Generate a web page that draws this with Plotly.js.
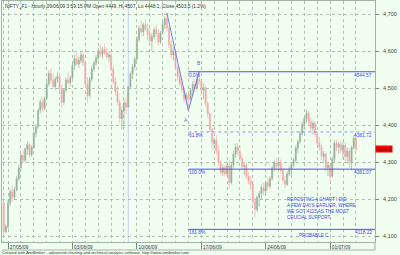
<!DOCTYPE html>
<html><head><meta charset="utf-8">
<script src="https://cdn.plot.ly/plotly-3.0.1.min.js"></script>
<style>html,body{margin:0;padding:0;background:#f0fff0;}#chart{width:400px;height:255px;}</style>
</head><body><div id="chart"></div>
<script>
const dayLabels = ["26/05/09","27/05/09","28/05/09","29/05/09","01/06/09","02/06/09","03/06/09","04/06/09","05/06/09","08/06/09","09/06/09","10/06/09","11/06/09","12/06/09","15/06/09","16/06/09","17/06/09","18/06/09","19/06/09","22/06/09","23/06/09","24/06/09","25/06/09","26/06/09","29/06/09","30/06/09","01/07/09","02/07/09","03/07/09"];
const barsPerDay = [2,6,6,6,6,6,6,6,6,6,6,6,6,6,6,6,6,6,6,6,6,6,6,6,6,6,6,6,1];
const weekLabels = ["27/05/09","03/06/09","10/06/09","17/06/09","24/06/09","01/07/09"];

const opens = [4190,4112,4125,4190,4220,4205,4225,4255,
4285,4318,4305,4335,4348,4320,
4340,4378,4396,4440,4462,4445,
4472,4512,4540,4522,4505,4525,
4532,4498,4462,4495,4522,4515,
4528,4562,4580,4566,4575,4590,
4570,4512,4480,4525,4552,4568,
4582,4600,4592,4605,4596,4585,
4590,4552,4518,4490,4462,4418,
4440,4460,4449,4503.5,4538,4558,
4578,4632,4662,4652,4672,4660,
4645,4628,4640,4658,4648,4625,
4650,4672,4688,4662,4618,4590,
4600,4555,4532,4512,4495,4470,
4482,4470,4495,4510,4500,4525,
4518,4495,4502,4458,4430,4390,
4350,4360,4330,4300,4272,4285,
4268,4290,4245,4292,4322,4340,
4330,4310,4288,4292,4262,4248,
4240,4195,4172,4205,4215,4232,
4222,4245,4235,4255,4284,4298,
4290,4300,4278,4252,4240,4268,
4282,4295,4305,4338,4355,4378,
4402,4418,4432,4410,4392,4405,
4375,4352,4340,4315,4322,4285,
4292,4262,4308,4352,4340,4348,
4332,4345,4315,4330,4298,4340,
4365];
const highs = [4195,4132,4200,4228,4236,4232,4262,4292,
4325,4332,4340,4356,4352,4345,
4385,4402,4445,4470,4475,4478,
4520,4548,4555,4538,4530,4545,
4540,4510,4500,4530,4545,4535,
4570,4590,4594,4585,4600,4596,
4575,4530,4530,4560,4575,4590,
4610,4618,4612,4620,4608,4600,
4598,4560,4530,4505,4470,4450,
4470,4475,4507,4545,4565,4585,
4640,4670,4685,4678,4688,4675,
4668,4650,4665,4672,4660,4655,
4680,4695,4703.5,4668,4630,4612,
4606,4562,4545,4525,4502,4490,
4488,4500,4520,4525,4530,4544.57,
4525,4512,4508,4465,4435,4395,
4366,4374,4345,4305,4295,4292,
4300,4305,4300,4330,4350,4352,
4345,4318,4300,4298,4275,4262,
4248,4205,4210,4222,4240,4245,
4250,4258,4262,4290,4305,4310,
4306,4308,4285,4262,4275,4290,
4300,4312,4345,4362,4385,4410,
4425,4442,4438,4420,4412,4410,
4382,4368,4348,4330,4325,4300,
4298,4315,4360,4362,4355,4358,
4355,4352,4340,4338,4345,4372,
4375];
const lows = [4095,4108,4120,4182,4195,4198,4220,4248,
4280,4298,4300,4320,4312,4315,
4335,4368,4390,4432,4436,4440,
4468,4505,4515,4498,4496,4515,
4490,4445,4455,4488,4510,4505,
4522,4550,4560,4555,4568,4560,
4500,4462,4475,4518,4545,4560,
4575,4585,4580,4590,4578,4570,
4545,4510,4480,4455,4405,4388,
4392,4430,4448.1,4498,4525,4550,
4572,4625,4645,4640,4655,4630,
4620,4600,4632,4640,4615,4620,
4645,4660,4655,4610,4580,4575,
4548,4520,4505,4488,4462,4455,
4440,4462,4480,4490,4495,4508,
4480,4470,4450,4420,4382,4335,
4332,4320,4290,4265,4262,4260,
4262,4228,4240,4285,4312,4318,
4302,4280,4265,4255,4240,4225,
4185,4150,4165,4180,4200,4210,
4215,4225,4228,4250,4275,4280,
4280,4272,4245,4230,4235,4262,
4265,4285,4300,4325,4350,4370,
4390,4408,4400,4385,4375,4368,
4345,4330,4305,4298,4275,4262,
4245,4258,4300,4330,4322,4325,
4310,4300,4295,4285,4278,4335,
4328];
const closes = [4112,4125,4190,4220,4205,4225,4255,4285,
4318,4305,4335,4348,4320,4340,
4378,4396,4440,4462,4445,4472,
4512,4540,4522,4505,4525,4532,
4498,4462,4495,4522,4515,4528,
4562,4580,4566,4575,4590,4570,
4512,4480,4525,4552,4568,4582,
4600,4592,4605,4596,4585,4590,
4552,4518,4490,4462,4418,4440,
4460,4449,4503.5,4538,4558,4578,
4632,4662,4652,4672,4660,4645,
4628,4640,4658,4648,4625,4650,
4672,4688,4662,4618,4590,4600,
4555,4532,4512,4495,4470,4482,
4470,4495,4510,4500,4525,4518,
4495,4502,4458,4430,4390,4355,
4360,4330,4300,4272,4285,4268,
4290,4245,4292,4322,4340,4330,
4310,4288,4292,4262,4248,4240,
4195,4172,4205,4215,4232,4222,
4245,4235,4255,4284,4298,4290,
4300,4278,4252,4240,4268,4282,
4295,4305,4338,4355,4378,4402,
4418,4432,4410,4392,4405,4375,
4352,4340,4315,4322,4285,4292,
4262,4308,4352,4340,4348,4332,
4345,4315,4330,4298,4340,4365,
4334.5];

const yTicks = [4100,4200,4300,4400,4500,4600,4700];
const fibLevels = [0, 0.618, 1.0, 1.618];
const fibNames = ["0.0%","61.8%","100.0%","161.8%"];
const peakIdx = 76, aIdx = 86, bIdx = 91, selectedIdx = 58;
const titleText = "NIFTY_F1 - Hourly 09/06/09 3:59:15 PM Open 4449, Hi 4507, Lo 4448.1, Close 4503.5 (1.2%)";
const noteLines = ["REPOSTING A CHART I DID","A FEW DAYS EARLIER, WHERE","WE GOT 4115 AS THE MOST","CRUCIAL SUPPORT."];
const probableText = "PROBABLE C";
const footerText = "Created with AmiBroker - advanced charting and technical analysis software. http://www.amibroker.com";

// derived
const xs = opens.map((_, i) => i);
const dayStarts = [];
let acc = 0;
barsPerDay.forEach(n => { dayStarts.push(acc); acc += n; });
const weekTicks = weekLabels.map(l => dayStarts[dayLabels.indexOf(l)]);
const xRange = [-0.8, 172.9];
const yRange = [4084, 4736];

const peakP = highs[peakIdx], aP = lows[aIdx], bP = highs[bIdx];
const swing = peakP - aP;
const fibPrices = fibLevels.map(l => bP - l * swing);
const fmt2 = v => (Math.floor(v * 100 + 1e-6) / 100).toFixed(2);

const font = 'Liberation Sans, Arial, sans-serif';
const blue = '#4646f0';

const traces = [
  {type:'candlestick', x: xs, open: opens, high: highs, low: lows, close: closes,
   increasing:{line:{color:'#a2b9a2', width:0.8}, fillcolor:'#7f9c7f'},
   decreasing:{line:{color:'#f6b3b3', width:0.8}, fillcolor:'#ee8a8a'},
   whiskerwidth:0, hoverinfo:'skip', showlegend:false},
  {type:'scatter', mode:'lines', x:[peakIdx, aIdx, bIdx], y:[peakP, aP, bP],
   line:{color:'#7080f0', width:1}, hoverinfo:'skip', showlegend:false}
];

const shapes = [
  {type:'line', xref:'x', yref:'paper', x0:selectedIdx, x1:selectedIdx, y0:0, y1:1, line:{color:'#c4ccf4', width:1}, layer:'below'},
  {type:'line', xref:'paper', yref:'paper', x0:0, x1:1, y0:-8/241, y1:-8/241, line:{color:'#a3b3a3', width:1}},
  {type:'line', xref:'paper', yref:'paper', x0:1, x1:1, y0:-8/241, y1:0, line:{color:'#a3b3a3', width:1}}
];
fibPrices.forEach((p, i) => {
  shapes.push({type:'line', xref:'x', yref:'y', x0:aIdx, x1:xRange[1], y0:p, y1:p,
    line:{color: fibLevels[i] === 0.618 ? '#8c8cff' : '#5050ee', width:1, dash: fibLevels[i] === 0.618 ? 'dot' : 'solid'}});
});

const annotations = [
  {xref:'paper', yref:'paper', x:0, y:1, xanchor:'left', yanchor:'top', xshift:1, yshift:-1, text:titleText, showarrow:false, font:{family:font, size:4.8, color:'#333'}},
  {xref:'paper', yref:'paper', x:0, y:0, xanchor:'left', yanchor:'middle', xshift:-1, yshift:-10.3, borderpad:0, text:footerText, showarrow:false, font:{family:font, size:4.1, color:'#333'}},
  {xref:'paper', yref:'y', x:1, y:closes[closes.length-1], xanchor:'left', yanchor:'middle', text:closes[closes.length-1].toFixed(1), showarrow:false, bgcolor:'#ff0000', borderpad:0.5, font:{family:font, size:4.8, color:'#500000'}},
  {xref:'x', yref:'y', x:aIdx, y:aP, xanchor:'center', yanchor:'top', xshift:-2, yshift:-5, text:'A', showarrow:false, font:{family:font, size:5, color:'#5a6ab0'}},
  {xref:'x', yref:'y', x:bIdx, y:bP, xanchor:'center', yanchor:'bottom', yshift:4, text:'B', showarrow:false, font:{family:font, size:5, color:'#5a6ab0'}},
  {xref:'paper', yref:'paper', x:0.759, y:0.193, xanchor:'left', yanchor:'top', align:'left', text:noteLines.join('<br>'), showarrow:false, font:{family:font, size:4.6, color:blue}},
  {xref:'paper', yref:'paper', x:0.791, y:0.025, xanchor:'left', yanchor:'middle', text:probableText, showarrow:false, font:{family:font, size:4.6, color:blue}}
];
fibPrices.forEach((p, i) => {
  annotations.push({xref:'x', yref:'y', x:aIdx, y:p, xanchor:'left', yanchor:'top', text:fibNames[i], showarrow:false, borderpad:0, font:{family:font, size:4.8, color:blue}});
  annotations.push({xref:'paper', yref:'y', x:1, y:p, xanchor:'right', yanchor:'top', xshift:-2, text:fmt2(p), showarrow:false, borderpad:0, font:{family:font, size:4.8, color:blue}});
});

const layout = {
  width:400, height:255,
  margin:{l:2, r:25, t:1, b:13, pad:0},
  paper_bgcolor:'#f0fff0', plot_bgcolor:'#f0fff0',
  showlegend:false,
  xaxis:{range:xRange, rangeslider:{visible:false}, showline:true, mirror:true, linecolor:'#a3b3a3', linewidth:1,
    tickmode:'array', tickvals:weekTicks, ticktext:weekLabels, ticks:'outside', ticklen:6, tickcolor:'#7a8a7a',
    tickfont:{family:font, size:4.8, color:'#333'}, ticklabelshift:11, ticklabelstandoff:-6,
    showgrid:true, gridcolor:'#b4c0b4', griddash:'dot', gridwidth:1,
    minor:{tickmode:'array', tickvals:dayStarts, showgrid:true, gridcolor:'#b4c0b4', griddash:'dot', gridwidth:1, ticks:''},
    zeroline:false, fixedrange:true},
  yaxis:{side:'right', range:yRange, tickmode:'array', tickvals:yTicks, tickformat:',', ticks:'outside', ticklen:3, tickcolor:'#7a8a7a',
    tickfont:{family:font, size:5.5, color:'#444'}, ticklabelstandoff:3,
    showline:true, mirror:true, linecolor:'#a3b3a3', linewidth:1,
    showgrid:true, gridcolor:'#b4c0b4', griddash:'dot', gridwidth:1, zeroline:false, fixedrange:true},
  shapes: shapes,
  annotations: annotations
};

Plotly.newPlot('chart', traces, layout, {staticPlot:true, displayModeBar:false});
</script>
</body></html>
